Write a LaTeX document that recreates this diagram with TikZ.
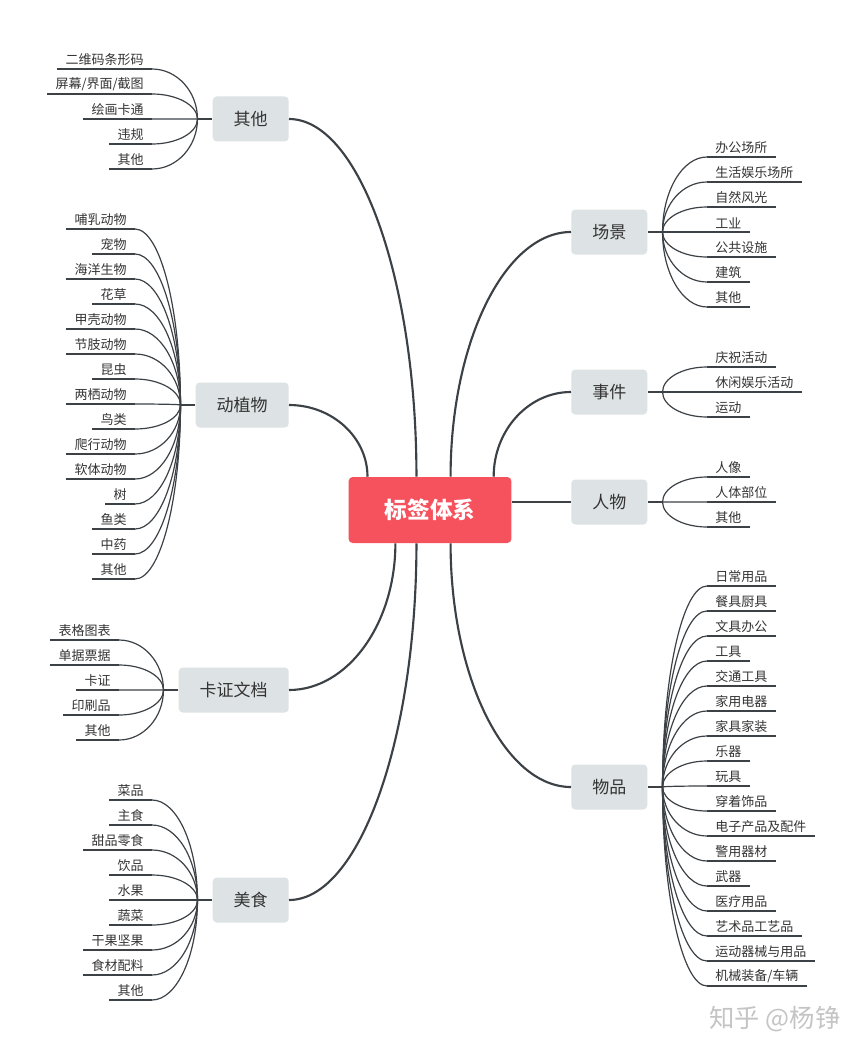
\documentclass[tikz,border=0pt]{standalone}
\usepackage{fontspec}
\setmainfont{Noto Sans CJK SC}
\usepackage{xcolor}
\usetikzlibrary{calc}

\definecolor{rootred}{HTML}{F5525E}
\definecolor{topicgray}{HTML}{DDE2E4}
\definecolor{linegray}{HTML}{3C4146}
\definecolor{textgray}{HTML}{333333}
\definecolor{markgray}{HTML}{C4C4C4}

\tikzset{
  rootbox/.style={fill=rootred, text=white, rounded corners=3pt, minimum width=122pt, minimum height=49.5pt, font=\fontsize{17}{17}\selectfont\bfseries},
  topicbox/.style={fill=topicgray, text=textgray, rounded corners=3pt, minimum height=33.75pt, inner xsep=15.75pt, font=\fontsize{12.75}{13}\selectfont},
  leaf/.style={inner xsep=6pt, inner ysep=2.5pt, text=textgray, font=\fontsize{9.75}{10}\selectfont},
  mainline/.style={draw=linegray, line width=1.6pt},
  subline/.style={draw=linegray, line width=0.9pt},
}

% curve from a topic/leaf end (#1) to a point (#2): horizontal at #1, vertical at #2
\newcommand\branch[3][subline]{%
  \draw[#1] (#2) .. controls ($(#2)!0.55!(#3 |- #2)$) and ($(#3)!0.55!(#3 |- #2)$) .. (#3);}

\begin{document}
\begin{tikzpicture}[x=0.75pt,y=-0.75pt]
\useasboundingbox (0,0) rectangle (864,1052);

% root
\node[rootbox] (root) at (430,510) {标签体系};

% topics
\node[topicbox, anchor=east] (qt) at (289,119) {其他};
\node[topicbox, anchor=east] (dz) at (289,405) {动植物};
\node[topicbox, anchor=east] (kz) at (289,690) {卡证文档};
\node[topicbox, anchor=east] (ms) at (289,900) {美食};
\node[topicbox, anchor=west] (cj) at (571,232) {场景};
\node[topicbox, anchor=west] (sj) at (571,392) {事件};
\node[topicbox, anchor=west] (rw) at (571,502) {人物};
\node[topicbox, anchor=west] (wp) at (571,787) {物品};

% root to topics
\coordinate (r-qt) at ($(root.north west)!0.417!(root.north east)$);
\coordinate (r-dz) at ($(root.north west)!0.117!(root.north east)$);
\coordinate (r-kz) at ($(root.south west)!0.288!(root.south east)$);
\coordinate (r-ms) at ($(root.south west)!0.417!(root.south east)$);
\coordinate (r-cj) at ($(root.north west)!0.626!(root.north east)$);
\coordinate (r-sj) at ($(root.north west)!0.89!(root.north east)$);
\coordinate (r-wp) at ($(root.south west)!0.626!(root.south east)$);
\coordinate (r-rw) at (rw.west -| root.east);
\branch[mainline]{qt.east}{r-qt}
\branch[mainline]{dz.east}{r-dz}
\branch[mainline]{kz.east}{r-kz}
\branch[mainline]{ms.east}{r-ms}
\branch[mainline]{cj.west}{r-cj}
\branch[mainline]{sj.west}{r-sj}
\branch[mainline]{wp.west}{r-wp}
\draw[mainline] (r-rw) -- (rw.west);

% junctions
\coordinate (qtj) at ([xshift=-11.25pt]qt.west);
\coordinate (dzj) at ([xshift=-11.25pt]dz.west);
\coordinate (kzj) at ([xshift=-11.25pt]kz.west);
\coordinate (msj) at ([xshift=-11.25pt]ms.west);
\coordinate (cjj) at ([xshift=11.25pt]cj.east);
\coordinate (sjj) at ([xshift=11.25pt]sj.east);
\coordinate (rwj) at ([xshift=11.25pt]rw.east);
\coordinate (wpj) at ([xshift=11.25pt]wp.east);
\foreach \t/\j in {qt/qtj,dz/dzj,kz/kzj,ms/msj} \draw[subline] (\t.west) -- (\j);
\foreach \t/\j in {cj/cjj,sj/sjj,rw/rwj,wp/wpj} \draw[subline] (\t.east) -- (\j);

% left leaves
\foreach \t [count=\i] in {二维码条形码,屏幕/界面/截图,绘画卡通,违规,其他} {
  \node[leaf, anchor=south east] (qt\i) at (152,44+25*\i) {\t};
  \draw[subline] (qt\i.south west) -- (qt\i.south east);
  \branch{qt\i.south east}{qtj}
}
\foreach \t [count=\i] in {哺乳动物,宠物,海洋生物,花草,甲壳动物,节肢动物,昆虫,两栖动物,鸟类,爬行动物,软体动物,树,鱼类,中药,其他} {
  \node[leaf, anchor=south east] (dz\i) at (135,204+25*\i) {\t};
  \draw[subline] (dz\i.south west) -- (dz\i.south east);
  \branch{dz\i.south east}{dzj}
}
\foreach \t [count=\i] in {表格图表,单据票据,卡证,印刷品,其他} {
  \node[leaf, anchor=south east] (kz\i) at (119,615+25*\i) {\t};
  \draw[subline] (kz\i.south west) -- (kz\i.south east);
  \branch{kz\i.south east}{kzj}
}
\foreach \t [count=\i] in {菜品,主食,甜品零食,饮品,水果,蔬菜,干果坚果,食材配料,其他} {
  \node[leaf, anchor=south east] (ms\i) at (152,775+25*\i) {\t};
  \draw[subline] (ms\i.south west) -- (ms\i.south east);
  \branch{ms\i.south east}{msj}
}

% right leaves
\foreach \t [count=\i] in {办公场所,生活娱乐场所,自然风光,工业,公共设施,建筑,其他} {
  \node[leaf, anchor=south west] (cj\i) at (707,132+25*\i) {\t};
  \draw[subline] (cj\i.south east) -- (cj\i.south west);
  \branch{cj\i.south west}{cjj}
}
\foreach \t [count=\i] in {庆祝活动,休闲娱乐活动,运动} {
  \node[leaf, anchor=south west] (sj\i) at (707,342+25*\i) {\t};
  \draw[subline] (sj\i.south east) -- (sj\i.south west);
  \branch{sj\i.south west}{sjj}
}
\foreach \t [count=\i] in {人像,人体部位,其他} {
  \node[leaf, anchor=south west] (rw\i) at (707,452+25*\i) {\t};
  \draw[subline] (rw\i.south east) -- (rw\i.south west);
  \branch{rw\i.south west}{rwj}
}
\foreach \t [count=\i] in {日常用品,餐具厨具,文具办公,工具,交通工具,家用电器,家具家装,乐器,玩具,穿着饰品,电子产品及配件,警用器材,武器,医疗用品,艺术品工艺品,运动器械与用品,机械装备/车辆} {
  \node[leaf, anchor=south west] (wp\i) at (707,561+25*\i) {\t};
  \draw[subline] (wp\i.south east) -- (wp\i.south west);
  \branch{wp\i.south west}{wpj}
}

% watermark
\node[text=markgray, font=\fontsize{19}{19}\selectfont] (mark) at (775,1019) {知乎 @杨铮};
\end{tikzpicture}
\end{document}
